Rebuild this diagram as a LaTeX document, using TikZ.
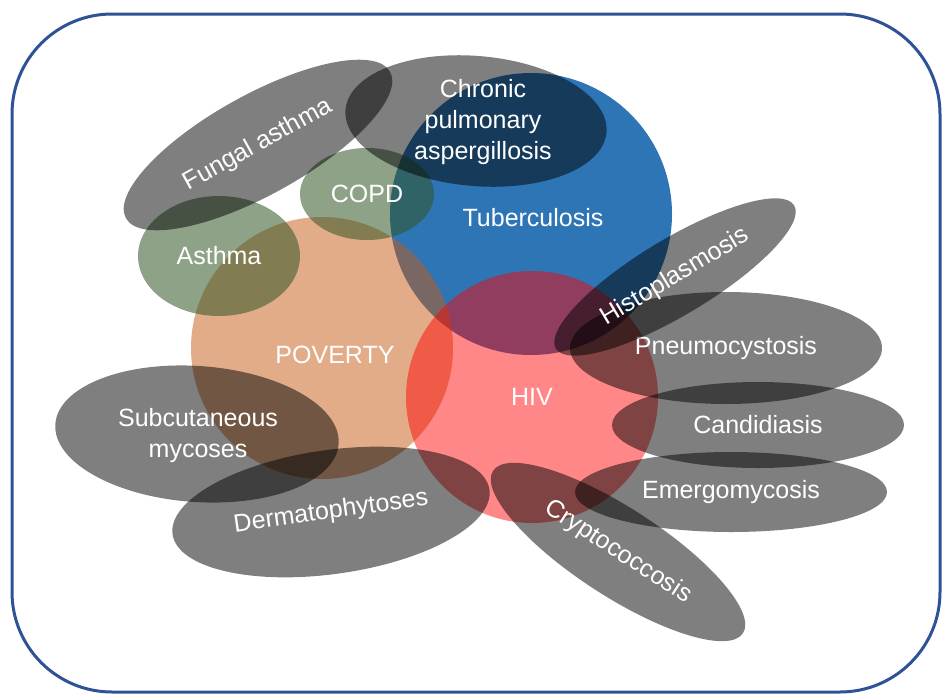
\documentclass[tikz,border=0pt]{standalone}
\usepackage{fontspec}
\setmainfont{Liberation Sans}
\usetikzlibrary{shapes.geometric}

\definecolor{tbblue}{RGB}{46,117,182}
\definecolor{povorange}{RGB}{197,90,17}
\definecolor{lunggreen}{RGB}{50,85,38}
\definecolor{framenavy}{RGB}{47,82,151}

\tikzset{
    lbl/.style={text=white, text opacity=1, font=\fontsize{25}{31}\selectfont, align=center, inner sep=0pt},
    disc/.style={circle, lbl, minimum size=#1},
    blob/.style={ellipse, lbl, fill=black, fill opacity=0.5},
    lung/.style={ellipse, lbl, fill=lunggreen, fill opacity=0.55},
}

\begin{document}
\begin{tikzpicture}[x=1pt,y=-1pt]
    % Frame
    \useasboundingbox (0,0) rectangle (943,694);
    \draw[framenavy, line width=3pt, rounded corners=100pt] (12,14) rectangle (940,692);
    % Big circles
    \node[disc=282pt, fill=tbblue] (tb) at (531,214) {};
    \node[lbl] (tbtext) at (533,218) {Tuberculosis};
    \node[disc=262pt, fill=povorange, fill opacity=0.5] (pov) at (322,348) {};
    \node[lbl] (povtext) at (335,355) {POVERTY};
    \node[disc=252pt, fill=red, fill opacity=0.47] (hiv) at (532,397) {HIV};
    % Lung diseases
    \node[lung, minimum width=162pt, minimum height=120pt] (asthma) at (219,256) {Asthma};
    \node[lung, minimum width=134pt, minimum height=92pt] (copd) at (367,194) {COPD};
    % Fungal diseases
    \node[blob, minimum width=302pt, minimum height=100pt, rotate=29] (fungal) at (258,145) {Fungal asthma};
    \node[blob, minimum width=262pt, minimum height=130pt, rotate=-5] (cpa) at (476,121) {};
    \node[lbl] (cpatext) at (483,122) {Chronic\\pulmonary\\aspergillosis};
    \node[blob, minimum width=284pt, minimum height=136pt, rotate=-4] (subcut) at (197,434) {};
    \node[lbl] (subcuttext) at (198,436) {Subcutaneous\\mycoses};
    \node[blob, minimum width=320pt, minimum height=124pt, rotate=8] (derm) at (331,512) {Dermatophytoses};
    \node[blob, minimum width=298pt, minimum height=88pt, rotate=-33] (crypto) at (618,552) {Cryptococcosis};
    \node[blob, minimum width=312pt, minimum height=80pt] (emergo) at (731,492) {Emergomycosis};
    \node[blob, minimum width=292pt, minimum height=86pt] (candida) at (758,425) {Candidiasis};
    \node[blob, minimum width=312pt, minimum height=112pt] (pneumo) at (726,348) {Pneumocystosis};
    \node[blob, minimum width=278pt, minimum height=76pt, rotate=31] (histo) at (675,277) {Histoplasmosis};
\end{tikzpicture}
\end{document}
